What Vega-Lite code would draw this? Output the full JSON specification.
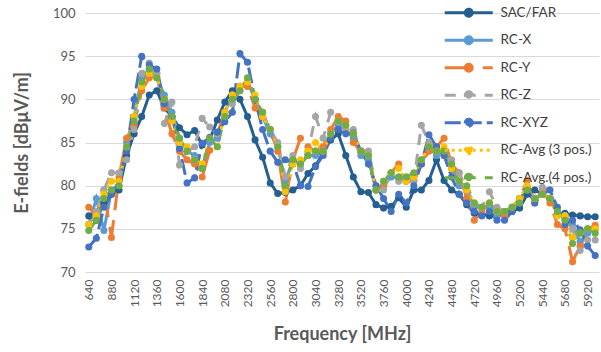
{
"$schema":"https://vega.github.io/schema/vega-lite/v6.json",
"width":514,"height":259,
"autosize":{"type":"none"},
"padding":{"left":85,"top":13,"right":2,"bottom":80},
"background":"white",
"config":{"view":{"stroke":null},"font":"Lato"},
"data":{"values":[
{"f":640,"s":"SAC/FAR","v":76.5},{"f":720,"s":"SAC/FAR","v":76},{"f":800,"s":"SAC/FAR","v":78},{"f":880,"s":"SAC/FAR","v":79},{"f":960,"s":"SAC/FAR","v":79.5},{"f":1040,"s":"SAC/FAR","v":83.5},{"f":1120,"s":"SAC/FAR","v":86},{"f":1200,"s":"SAC/FAR","v":88},{"f":1280,"s":"SAC/FAR","v":90.5},{"f":1360,"s":"SAC/FAR","v":91},{"f":1440,"s":"SAC/FAR","v":89},{"f":1520,"s":"SAC/FAR","v":88},{"f":1600,"s":"SAC/FAR","v":86.7},{"f":1680,"s":"SAC/FAR","v":85.9},{"f":1760,"s":"SAC/FAR","v":86.4},{"f":1840,"s":"SAC/FAR","v":84.7},{"f":1920,"s":"SAC/FAR","v":85.3},{"f":2000,"s":"SAC/FAR","v":87.6},{"f":2080,"s":"SAC/FAR","v":89.7},{"f":2160,"s":"SAC/FAR","v":91},{"f":2240,"s":"SAC/FAR","v":90},{"f":2320,"s":"SAC/FAR","v":88},{"f":2400,"s":"SAC/FAR","v":85.3},{"f":2480,"s":"SAC/FAR","v":83.3},{"f":2560,"s":"SAC/FAR","v":80.3},{"f":2640,"s":"SAC/FAR","v":79.1},{"f":2720,"s":"SAC/FAR","v":79.2},{"f":2800,"s":"SAC/FAR","v":79.5},{"f":2880,"s":"SAC/FAR","v":80},{"f":2960,"s":"SAC/FAR","v":81.4},{"f":3040,"s":"SAC/FAR","v":82.3},{"f":3120,"s":"SAC/FAR","v":83.8},{"f":3200,"s":"SAC/FAR","v":85.3},{"f":3280,"s":"SAC/FAR","v":86},{"f":3360,"s":"SAC/FAR","v":83.5},{"f":3440,"s":"SAC/FAR","v":81},{"f":3520,"s":"SAC/FAR","v":79.3},{"f":3600,"s":"SAC/FAR","v":79.2},{"f":3680,"s":"SAC/FAR","v":77.8},{"f":3760,"s":"SAC/FAR","v":77.4},{"f":3840,"s":"SAC/FAR","v":77.6},{"f":3920,"s":"SAC/FAR","v":78.6},{"f":4000,"s":"SAC/FAR","v":77.5},{"f":4080,"s":"SAC/FAR","v":79.5},{"f":4160,"s":"SAC/FAR","v":79.5},{"f":4240,"s":"SAC/FAR","v":80.6},{"f":4320,"s":"SAC/FAR","v":83},{"f":4400,"s":"SAC/FAR","v":80.6},{"f":4480,"s":"SAC/FAR","v":79.5},{"f":4560,"s":"SAC/FAR","v":79},{"f":4640,"s":"SAC/FAR","v":77.8},{"f":4720,"s":"SAC/FAR","v":76.8},{"f":4800,"s":"SAC/FAR","v":76.7},{"f":4880,"s":"SAC/FAR","v":76.5},{"f":4960,"s":"SAC/FAR","v":76.5},{"f":5040,"s":"SAC/FAR","v":76.8},{"f":5120,"s":"SAC/FAR","v":77},{"f":5200,"s":"SAC/FAR","v":77.4},{"f":5280,"s":"SAC/FAR","v":79},{"f":5360,"s":"SAC/FAR","v":79.5},{"f":5440,"s":"SAC/FAR","v":79},{"f":5520,"s":"SAC/FAR","v":78.5},{"f":5600,"s":"SAC/FAR","v":76.8},{"f":5680,"s":"SAC/FAR","v":76.8},{"f":5760,"s":"SAC/FAR","v":76.6},{"f":5840,"s":"SAC/FAR","v":76.5},{"f":5920,"s":"SAC/FAR","v":76.4},{"f":6000,"s":"SAC/FAR","v":76.4},
{"f":640,"s":"RC-X","v":75.5},{"f":720,"s":"RC-X","v":78.5},{"f":800,"s":"RC-X","v":74.8},{"f":880,"s":"RC-X","v":79.5},{"f":960,"s":"RC-X","v":80},{"f":1040,"s":"RC-X","v":85},{"f":1120,"s":"RC-X","v":88},{"f":1200,"s":"RC-X","v":92.5},{"f":1280,"s":"RC-X","v":93.5},{"f":1360,"s":"RC-X","v":92.5},{"f":1440,"s":"RC-X","v":90.5},{"f":1520,"s":"RC-X","v":88.5},{"f":1600,"s":"RC-X","v":85.5},{"f":1680,"s":"RC-X","v":84},{"f":1760,"s":"RC-X","v":83.5},{"f":1840,"s":"RC-X","v":82},{"f":1920,"s":"RC-X","v":85},{"f":2000,"s":"RC-X","v":85.5},{"f":2080,"s":"RC-X","v":88.5},{"f":2160,"s":"RC-X","v":90.5},{"f":2240,"s":"RC-X","v":91.5},{"f":2320,"s":"RC-X","v":92},{"f":2400,"s":"RC-X","v":90},{"f":2480,"s":"RC-X","v":88},{"f":2560,"s":"RC-X","v":86},{"f":2640,"s":"RC-X","v":84.5},{"f":2720,"s":"RC-X","v":80.5},{"f":2800,"s":"RC-X","v":83},{"f":2880,"s":"RC-X","v":82.5},{"f":2960,"s":"RC-X","v":83.5},{"f":3040,"s":"RC-X","v":83.5},{"f":3120,"s":"RC-X","v":84},{"f":3200,"s":"RC-X","v":86},{"f":3280,"s":"RC-X","v":87},{"f":3360,"s":"RC-X","v":86.5},{"f":3440,"s":"RC-X","v":85.5},{"f":3520,"s":"RC-X","v":83.5},{"f":3600,"s":"RC-X","v":83},{"f":3680,"s":"RC-X","v":79.5},{"f":3760,"s":"RC-X","v":80},{"f":3840,"s":"RC-X","v":81},{"f":3920,"s":"RC-X","v":81},{"f":4000,"s":"RC-X","v":80.5},{"f":4080,"s":"RC-X","v":81},{"f":4160,"s":"RC-X","v":82.5},{"f":4240,"s":"RC-X","v":84.5},{"f":4320,"s":"RC-X","v":83.5},{"f":4400,"s":"RC-X","v":84},{"f":4480,"s":"RC-X","v":82},{"f":4560,"s":"RC-X","v":80},{"f":4640,"s":"RC-X","v":79.5},{"f":4720,"s":"RC-X","v":77.5},{"f":4800,"s":"RC-X","v":77.5},{"f":4880,"s":"RC-X","v":77.5},{"f":4960,"s":"RC-X","v":76.5},{"f":5040,"s":"RC-X","v":77},{"f":5120,"s":"RC-X","v":77.5},{"f":5200,"s":"RC-X","v":78},{"f":5280,"s":"RC-X","v":79.5},{"f":5360,"s":"RC-X","v":78.5},{"f":5440,"s":"RC-X","v":79},{"f":5520,"s":"RC-X","v":78.5},{"f":5600,"s":"RC-X","v":77},{"f":5680,"s":"RC-X","v":76.5},{"f":5760,"s":"RC-X","v":75.5},{"f":5840,"s":"RC-X","v":73.5},{"f":5920,"s":"RC-X","v":74.5},{"f":6000,"s":"RC-X","v":75},
{"f":640,"s":"RC-Y","v":77.5},{"f":720,"s":"RC-Y","v":76.5},{"f":800,"s":"RC-Y","v":79.5},{"f":880,"s":"RC-Y","v":74},{"f":960,"s":"RC-Y","v":81},{"f":1040,"s":"RC-Y","v":85.5},{"f":1120,"s":"RC-Y","v":87},{"f":1200,"s":"RC-Y","v":91},{"f":1280,"s":"RC-Y","v":92.5},{"f":1360,"s":"RC-Y","v":93},{"f":1440,"s":"RC-Y","v":89},{"f":1520,"s":"RC-Y","v":86},{"f":1600,"s":"RC-Y","v":84},{"f":1680,"s":"RC-Y","v":83},{"f":1760,"s":"RC-Y","v":82.5},{"f":1840,"s":"RC-Y","v":81},{"f":1920,"s":"RC-Y","v":84.1},{"f":2000,"s":"RC-Y","v":86},{"f":2080,"s":"RC-Y","v":88.5},{"f":2160,"s":"RC-Y","v":90.5},{"f":2240,"s":"RC-Y","v":91.5},{"f":2320,"s":"RC-Y","v":91.5},{"f":2400,"s":"RC-Y","v":89},{"f":2480,"s":"RC-Y","v":88},{"f":2560,"s":"RC-Y","v":86.5},{"f":2640,"s":"RC-Y","v":84},{"f":2720,"s":"RC-Y","v":78.1},{"f":2800,"s":"RC-Y","v":83},{"f":2880,"s":"RC-Y","v":85.5},{"f":2960,"s":"RC-Y","v":84.5},{"f":3040,"s":"RC-Y","v":84},{"f":3120,"s":"RC-Y","v":84.5},{"f":3200,"s":"RC-Y","v":86.5},{"f":3280,"s":"RC-Y","v":88},{"f":3360,"s":"RC-Y","v":87.5},{"f":3440,"s":"RC-Y","v":85},{"f":3520,"s":"RC-Y","v":84},{"f":3600,"s":"RC-Y","v":83.5},{"f":3680,"s":"RC-Y","v":79.5},{"f":3760,"s":"RC-Y","v":80},{"f":3840,"s":"RC-Y","v":81.5},{"f":3920,"s":"RC-Y","v":82.5},{"f":4000,"s":"RC-Y","v":80.5},{"f":4080,"s":"RC-Y","v":80.5},{"f":4160,"s":"RC-Y","v":82.5},{"f":4240,"s":"RC-Y","v":84},{"f":4320,"s":"RC-Y","v":84.5},{"f":4400,"s":"RC-Y","v":85.5},{"f":4480,"s":"RC-Y","v":82.5},{"f":4560,"s":"RC-Y","v":81.5},{"f":4640,"s":"RC-Y","v":78.5},{"f":4720,"s":"RC-Y","v":76},{"f":4800,"s":"RC-Y","v":77},{"f":4880,"s":"RC-Y","v":78},{"f":4960,"s":"RC-Y","v":77},{"f":5040,"s":"RC-Y","v":76.5},{"f":5120,"s":"RC-Y","v":77.5},{"f":5200,"s":"RC-Y","v":78.5},{"f":5280,"s":"RC-Y","v":80.6},{"f":5360,"s":"RC-Y","v":78},{"f":5440,"s":"RC-Y","v":79.5},{"f":5520,"s":"RC-Y","v":78},{"f":5600,"s":"RC-Y","v":75.5},{"f":5680,"s":"RC-Y","v":75},{"f":5760,"s":"RC-Y","v":71.2},{"f":5840,"s":"RC-Y","v":73},{"f":5920,"s":"RC-Y","v":75},{"f":6000,"s":"RC-Y","v":75.4},
{"f":640,"s":"RC-Z","v":75.5},{"f":720,"s":"RC-Z","v":77},{"f":800,"s":"RC-Z","v":79.5},{"f":880,"s":"RC-Z","v":81.5},{"f":960,"s":"RC-Z","v":81.5},{"f":1040,"s":"RC-Z","v":83},{"f":1120,"s":"RC-Z","v":86.5},{"f":1200,"s":"RC-Z","v":93},{"f":1280,"s":"RC-Z","v":94.2},{"f":1360,"s":"RC-Z","v":93},{"f":1440,"s":"RC-Z","v":87.2},{"f":1520,"s":"RC-Z","v":89.7},{"f":1600,"s":"RC-Z","v":82.4},{"f":1680,"s":"RC-Z","v":84},{"f":1760,"s":"RC-Z","v":84.5},{"f":1840,"s":"RC-Z","v":87.8},{"f":1920,"s":"RC-Z","v":86.8},{"f":2000,"s":"RC-Z","v":86},{"f":2080,"s":"RC-Z","v":88},{"f":2160,"s":"RC-Z","v":89.5},{"f":2240,"s":"RC-Z","v":91},{"f":2320,"s":"RC-Z","v":92},{"f":2400,"s":"RC-Z","v":90},{"f":2480,"s":"RC-Z","v":88.5},{"f":2560,"s":"RC-Z","v":86.5},{"f":2640,"s":"RC-Z","v":85},{"f":2720,"s":"RC-Z","v":81},{"f":2800,"s":"RC-Z","v":83.5},{"f":2880,"s":"RC-Z","v":82},{"f":2960,"s":"RC-Z","v":84},{"f":3040,"s":"RC-Z","v":88},{"f":3120,"s":"RC-Z","v":85.5},{"f":3200,"s":"RC-Z","v":88.5},{"f":3280,"s":"RC-Z","v":87.5},{"f":3360,"s":"RC-Z","v":86.5},{"f":3440,"s":"RC-Z","v":86.5},{"f":3520,"s":"RC-Z","v":84},{"f":3600,"s":"RC-Z","v":84},{"f":3680,"s":"RC-Z","v":80},{"f":3760,"s":"RC-Z","v":79.5},{"f":3840,"s":"RC-Z","v":81.5},{"f":3920,"s":"RC-Z","v":80.5},{"f":4000,"s":"RC-Z","v":81},{"f":4080,"s":"RC-Z","v":80.5},{"f":4160,"s":"RC-Z","v":87},{"f":4240,"s":"RC-Z","v":85},{"f":4320,"s":"RC-Z","v":84.5},{"f":4400,"s":"RC-Z","v":83.5},{"f":4480,"s":"RC-Z","v":83},{"f":4560,"s":"RC-Z","v":81.5},{"f":4640,"s":"RC-Z","v":79.5},{"f":4720,"s":"RC-Z","v":78},{"f":4800,"s":"RC-Z","v":77.5},{"f":4880,"s":"RC-Z","v":79.3},{"f":4960,"s":"RC-Z","v":77.5},{"f":5040,"s":"RC-Z","v":77},{"f":5120,"s":"RC-Z","v":77.5},{"f":5200,"s":"RC-Z","v":78.5},{"f":5280,"s":"RC-Z","v":79.5},{"f":5360,"s":"RC-Z","v":78.5},{"f":5440,"s":"RC-Z","v":79.8},{"f":5520,"s":"RC-Z","v":79.5},{"f":5600,"s":"RC-Z","v":77},{"f":5680,"s":"RC-Z","v":76.5},{"f":5760,"s":"RC-Z","v":75},{"f":5840,"s":"RC-Z","v":72.5},{"f":5920,"s":"RC-Z","v":73.7},{"f":6000,"s":"RC-Z","v":73.7},
{"f":640,"s":"RC-XYZ","v":72.9},{"f":720,"s":"RC-XYZ","v":73.9},{"f":800,"s":"RC-XYZ","v":77.5},{"f":880,"s":"RC-XYZ","v":79},{"f":960,"s":"RC-XYZ","v":80.5},{"f":1040,"s":"RC-XYZ","v":84},{"f":1120,"s":"RC-XYZ","v":90},{"f":1200,"s":"RC-XYZ","v":95},{"f":1280,"s":"RC-XYZ","v":94},{"f":1360,"s":"RC-XYZ","v":93.5},{"f":1440,"s":"RC-XYZ","v":89.5},{"f":1520,"s":"RC-XYZ","v":88},{"f":1600,"s":"RC-XYZ","v":84.3},{"f":1680,"s":"RC-XYZ","v":80.3},{"f":1760,"s":"RC-XYZ","v":80.9},{"f":1840,"s":"RC-XYZ","v":84.9},{"f":1920,"s":"RC-XYZ","v":85.6},{"f":2000,"s":"RC-XYZ","v":86.2},{"f":2080,"s":"RC-XYZ","v":87.4},{"f":2160,"s":"RC-XYZ","v":88.5},{"f":2240,"s":"RC-XYZ","v":95.3},{"f":2320,"s":"RC-XYZ","v":94.3},{"f":2400,"s":"RC-XYZ","v":90},{"f":2480,"s":"RC-XYZ","v":86.5},{"f":2560,"s":"RC-XYZ","v":84},{"f":2640,"s":"RC-XYZ","v":82.7},{"f":2720,"s":"RC-XYZ","v":83},{"f":2800,"s":"RC-XYZ","v":82.7},{"f":2880,"s":"RC-XYZ","v":80},{"f":2960,"s":"RC-XYZ","v":79.9},{"f":3040,"s":"RC-XYZ","v":82.2},{"f":3120,"s":"RC-XYZ","v":83.5},{"f":3200,"s":"RC-XYZ","v":85.5},{"f":3280,"s":"RC-XYZ","v":86.5},{"f":3360,"s":"RC-XYZ","v":86},{"f":3440,"s":"RC-XYZ","v":86.1},{"f":3520,"s":"RC-XYZ","v":84},{"f":3600,"s":"RC-XYZ","v":82.5},{"f":3680,"s":"RC-XYZ","v":80},{"f":3760,"s":"RC-XYZ","v":78.5},{"f":3840,"s":"RC-XYZ","v":77},{"f":3920,"s":"RC-XYZ","v":79},{"f":4000,"s":"RC-XYZ","v":78},{"f":4080,"s":"RC-XYZ","v":80},{"f":4160,"s":"RC-XYZ","v":82.5},{"f":4240,"s":"RC-XYZ","v":85.9},{"f":4320,"s":"RC-XYZ","v":84.5},{"f":4400,"s":"RC-XYZ","v":83.5},{"f":4480,"s":"RC-XYZ","v":81},{"f":4560,"s":"RC-XYZ","v":79},{"f":4640,"s":"RC-XYZ","v":78},{"f":4720,"s":"RC-XYZ","v":77},{"f":4800,"s":"RC-XYZ","v":76.5},{"f":4880,"s":"RC-XYZ","v":77},{"f":4960,"s":"RC-XYZ","v":76},{"f":5040,"s":"RC-XYZ","v":76},{"f":5120,"s":"RC-XYZ","v":77},{"f":5200,"s":"RC-XYZ","v":78.5},{"f":5280,"s":"RC-XYZ","v":79.5},{"f":5360,"s":"RC-XYZ","v":78},{"f":5440,"s":"RC-XYZ","v":79},{"f":5520,"s":"RC-XYZ","v":79.5},{"f":5600,"s":"RC-XYZ","v":77.5},{"f":5680,"s":"RC-XYZ","v":75.5},{"f":5760,"s":"RC-XYZ","v":76},{"f":5840,"s":"RC-XYZ","v":74.9},{"f":5920,"s":"RC-XYZ","v":73},{"f":6000,"s":"RC-XYZ","v":71.9},
{"f":640,"s":"RC-Avg (3 pos.)","v":75.5},{"f":720,"s":"RC-Avg (3 pos.)","v":76.5},{"f":800,"s":"RC-Avg (3 pos.)","v":79},{"f":880,"s":"RC-Avg (3 pos.)","v":80.5},{"f":960,"s":"RC-Avg (3 pos.)","v":80.5},{"f":1040,"s":"RC-Avg (3 pos.)","v":84.5},{"f":1120,"s":"RC-Avg (3 pos.)","v":88},{"f":1200,"s":"RC-Avg (3 pos.)","v":91.5},{"f":1280,"s":"RC-Avg (3 pos.)","v":93},{"f":1360,"s":"RC-Avg (3 pos.)","v":92.5},{"f":1440,"s":"RC-Avg (3 pos.)","v":90},{"f":1520,"s":"RC-Avg (3 pos.)","v":87.5},{"f":1600,"s":"RC-Avg (3 pos.)","v":85},{"f":1680,"s":"RC-Avg (3 pos.)","v":84.5},{"f":1760,"s":"RC-Avg (3 pos.)","v":83},{"f":1840,"s":"RC-Avg (3 pos.)","v":82.5},{"f":1920,"s":"RC-Avg (3 pos.)","v":85.5},{"f":2000,"s":"RC-Avg (3 pos.)","v":84.5},{"f":2080,"s":"RC-Avg (3 pos.)","v":88.5},{"f":2160,"s":"RC-Avg (3 pos.)","v":90.5},{"f":2240,"s":"RC-Avg (3 pos.)","v":91.5},{"f":2320,"s":"RC-Avg (3 pos.)","v":92},{"f":2400,"s":"RC-Avg (3 pos.)","v":90.5},{"f":2480,"s":"RC-Avg (3 pos.)","v":88},{"f":2560,"s":"RC-Avg (3 pos.)","v":86.5},{"f":2640,"s":"RC-Avg (3 pos.)","v":84.5},{"f":2720,"s":"RC-Avg (3 pos.)","v":79.3},{"f":2800,"s":"RC-Avg (3 pos.)","v":82.5},{"f":2880,"s":"RC-Avg (3 pos.)","v":83},{"f":2960,"s":"RC-Avg (3 pos.)","v":84},{"f":3040,"s":"RC-Avg (3 pos.)","v":85},{"f":3120,"s":"RC-Avg (3 pos.)","v":84},{"f":3200,"s":"RC-Avg (3 pos.)","v":86},{"f":3280,"s":"RC-Avg (3 pos.)","v":87.5},{"f":3360,"s":"RC-Avg (3 pos.)","v":87},{"f":3440,"s":"RC-Avg (3 pos.)","v":86},{"f":3520,"s":"RC-Avg (3 pos.)","v":84},{"f":3600,"s":"RC-Avg (3 pos.)","v":83.5},{"f":3680,"s":"RC-Avg (3 pos.)","v":79.5},{"f":3760,"s":"RC-Avg (3 pos.)","v":80.5},{"f":3840,"s":"RC-Avg (3 pos.)","v":81.5},{"f":3920,"s":"RC-Avg (3 pos.)","v":82},{"f":4000,"s":"RC-Avg (3 pos.)","v":80.5},{"f":4080,"s":"RC-Avg (3 pos.)","v":81},{"f":4160,"s":"RC-Avg (3 pos.)","v":83},{"f":4240,"s":"RC-Avg (3 pos.)","v":84.5},{"f":4320,"s":"RC-Avg (3 pos.)","v":84},{"f":4400,"s":"RC-Avg (3 pos.)","v":84.5},{"f":4480,"s":"RC-Avg (3 pos.)","v":82},{"f":4560,"s":"RC-Avg (3 pos.)","v":80.5},{"f":4640,"s":"RC-Avg (3 pos.)","v":79.5},{"f":4720,"s":"RC-Avg (3 pos.)","v":78},{"f":4800,"s":"RC-Avg (3 pos.)","v":77.5},{"f":4880,"s":"RC-Avg (3 pos.)","v":78},{"f":4960,"s":"RC-Avg (3 pos.)","v":77},{"f":5040,"s":"RC-Avg (3 pos.)","v":77},{"f":5120,"s":"RC-Avg (3 pos.)","v":77.5},{"f":5200,"s":"RC-Avg (3 pos.)","v":78.5},{"f":5280,"s":"RC-Avg (3 pos.)","v":80},{"f":5360,"s":"RC-Avg (3 pos.)","v":78.5},{"f":5440,"s":"RC-Avg (3 pos.)","v":79},{"f":5520,"s":"RC-Avg (3 pos.)","v":78.5},{"f":5600,"s":"RC-Avg (3 pos.)","v":76.5},{"f":5680,"s":"RC-Avg (3 pos.)","v":76.5},{"f":5760,"s":"RC-Avg (3 pos.)","v":74},{"f":5840,"s":"RC-Avg (3 pos.)","v":74.5},{"f":5920,"s":"RC-Avg (3 pos.)","v":75},{"f":6000,"s":"RC-Avg (3 pos.)","v":75},
{"f":640,"s":"RC-Avg.(4 pos.)","v":74.8},{"f":720,"s":"RC-Avg.(4 pos.)","v":76},{"f":800,"s":"RC-Avg.(4 pos.)","v":78.5},{"f":880,"s":"RC-Avg.(4 pos.)","v":79.5},{"f":960,"s":"RC-Avg.(4 pos.)","v":80},{"f":1040,"s":"RC-Avg.(4 pos.)","v":84.5},{"f":1120,"s":"RC-Avg.(4 pos.)","v":87.5},{"f":1200,"s":"RC-Avg.(4 pos.)","v":92},{"f":1280,"s":"RC-Avg.(4 pos.)","v":93.5},{"f":1360,"s":"RC-Avg.(4 pos.)","v":92.5},{"f":1440,"s":"RC-Avg.(4 pos.)","v":90},{"f":1520,"s":"RC-Avg.(4 pos.)","v":88},{"f":1600,"s":"RC-Avg.(4 pos.)","v":85.5},{"f":1680,"s":"RC-Avg.(4 pos.)","v":84},{"f":1760,"s":"RC-Avg.(4 pos.)","v":83},{"f":1840,"s":"RC-Avg.(4 pos.)","v":82},{"f":1920,"s":"RC-Avg.(4 pos.)","v":85.5},{"f":2000,"s":"RC-Avg.(4 pos.)","v":84.5},{"f":2080,"s":"RC-Avg.(4 pos.)","v":88},{"f":2160,"s":"RC-Avg.(4 pos.)","v":90},{"f":2240,"s":"RC-Avg.(4 pos.)","v":91},{"f":2320,"s":"RC-Avg.(4 pos.)","v":92.5},{"f":2400,"s":"RC-Avg.(4 pos.)","v":90},{"f":2480,"s":"RC-Avg.(4 pos.)","v":88.5},{"f":2560,"s":"RC-Avg.(4 pos.)","v":86.5},{"f":2640,"s":"RC-Avg.(4 pos.)","v":84.5},{"f":2720,"s":"RC-Avg.(4 pos.)","v":80},{"f":2800,"s":"RC-Avg.(4 pos.)","v":83},{"f":2880,"s":"RC-Avg.(4 pos.)","v":82.5},{"f":2960,"s":"RC-Avg.(4 pos.)","v":83.5},{"f":3040,"s":"RC-Avg.(4 pos.)","v":84},{"f":3120,"s":"RC-Avg.(4 pos.)","v":84},{"f":3200,"s":"RC-Avg.(4 pos.)","v":86},{"f":3280,"s":"RC-Avg.(4 pos.)","v":87.5},{"f":3360,"s":"RC-Avg.(4 pos.)","v":87},{"f":3440,"s":"RC-Avg.(4 pos.)","v":86},{"f":3520,"s":"RC-Avg.(4 pos.)","v":84},{"f":3600,"s":"RC-Avg.(4 pos.)","v":83.5},{"f":3680,"s":"RC-Avg.(4 pos.)","v":79.5},{"f":3760,"s":"RC-Avg.(4 pos.)","v":80.5},{"f":3840,"s":"RC-Avg.(4 pos.)","v":81.5},{"f":3920,"s":"RC-Avg.(4 pos.)","v":81},{"f":4000,"s":"RC-Avg.(4 pos.)","v":81},{"f":4080,"s":"RC-Avg.(4 pos.)","v":81.5},{"f":4160,"s":"RC-Avg.(4 pos.)","v":83},{"f":4240,"s":"RC-Avg.(4 pos.)","v":84.5},{"f":4320,"s":"RC-Avg.(4 pos.)","v":84},{"f":4400,"s":"RC-Avg.(4 pos.)","v":84},{"f":4480,"s":"RC-Avg.(4 pos.)","v":82.5},{"f":4560,"s":"RC-Avg.(4 pos.)","v":80.5},{"f":4640,"s":"RC-Avg.(4 pos.)","v":80},{"f":4720,"s":"RC-Avg.(4 pos.)","v":78},{"f":4800,"s":"RC-Avg.(4 pos.)","v":77.5},{"f":4880,"s":"RC-Avg.(4 pos.)","v":78},{"f":4960,"s":"RC-Avg.(4 pos.)","v":77},{"f":5040,"s":"RC-Avg.(4 pos.)","v":77},{"f":5120,"s":"RC-Avg.(4 pos.)","v":77.5},{"f":5200,"s":"RC-Avg.(4 pos.)","v":78},{"f":5280,"s":"RC-Avg.(4 pos.)","v":79.5},{"f":5360,"s":"RC-Avg.(4 pos.)","v":78.5},{"f":5440,"s":"RC-Avg.(4 pos.)","v":79},{"f":5520,"s":"RC-Avg.(4 pos.)","v":78.5},{"f":5600,"s":"RC-Avg.(4 pos.)","v":77},{"f":5680,"s":"RC-Avg.(4 pos.)","v":76},{"f":5760,"s":"RC-Avg.(4 pos.)","v":73.3},{"f":5840,"s":"RC-Avg.(4 pos.)","v":74.5},{"f":5920,"s":"RC-Avg.(4 pos.)","v":75},{"f":6000,"s":"RC-Avg.(4 pos.)","v":74.5}
]},
"encoding":{
"x":{"field":"f","type":"quantitative","scale":{"domain":[600,6040],"nice":false,"zero":false},
 "axis":{"values":[640,880,1120,1360,1600,1840,2080,2320,2560,2800,3040,3280,3520,3760,4000,4240,4480,4720,4960,5200,5440,5680,5920],"format":"d","labelAngle":-90,"labelAlign":"right","labelBaseline":"middle","labelFontSize":12,"labelColor":"#595959","labelPadding":7,"labelFlush":false,"labelOverlap":false,"grid":false,"ticks":false,"domain":false,"title":"Frequency [MHz]","titleFontSize":18,"titleFontWeight":"bold","titleColor":"#595959","titlePadding":19}},
"y":{"field":"v","type":"quantitative","scale":{"domain":[70,100],"nice":false,"zero":false},
 "axis":{"values":[70,75,80,85,90,95,100],"grid":true,"gridColor":"#D9D9D9","gridWidth":1,"domain":false,"ticks":false,"labelFontSize":13,"labelColor":"#595959","labelPadding":10,"title":"E-fields [dBμV/m]","titleFontSize":18,"titleFontWeight":"bold","titleColor":"#595959","titlePadding":21}}
},
"layer":[
{"mark":{"type":"line","strokeWidth":3,"strokeCap":"butt"},
 "encoding":{
  "color":{"field":"s","type":"nominal","sort":null,"scale":{"domain":["SAC/FAR","RC-X","RC-Y","RC-Z","RC-XYZ","RC-Avg (3 pos.)","RC-Avg.(4 pos.)"],"range":["#255E91","#5B9BD5","#ED7D31","#A5A5A5","#4472C4","#FFC000","#70AD47"]},
   "legend":{"orient":"none","legendX":377,"legendY":-7,"title":null,"padding":0,"symbolType":"M-6,0H6M-0.875,0A0.875,0.875,0,1,1,0.875,0A0.875,0.875,0,1,1,-0.875,0Z","symbolSize":64,"symbolStrokeWidth":3,"labelFontSize":13.5,"labelColor":"#404040","labelOffset":25,"rowPadding":7.5,"encode":{"symbols":{"update":{"fill":{"scale":"color","field":"value"},"opacity":{"value":1}}}}}},
  "strokeDash":{"field":"s","type":"nominal","sort":null,"scale":{"domain":["SAC/FAR","RC-X","RC-Y","RC-Z","RC-XYZ","RC-Avg (3 pos.)","RC-Avg.(4 pos.)"],"range":[[1,0],[1,0],[28,10],[11,9],[16,5],[3,4],[11,9]]}}
 }},
{"mark":{"type":"point","filled":true,"size":50,"opacity":1},
 "encoding":{"color":{"field":"s","type":"nominal","sort":null,"legend":null}}}
]
}
